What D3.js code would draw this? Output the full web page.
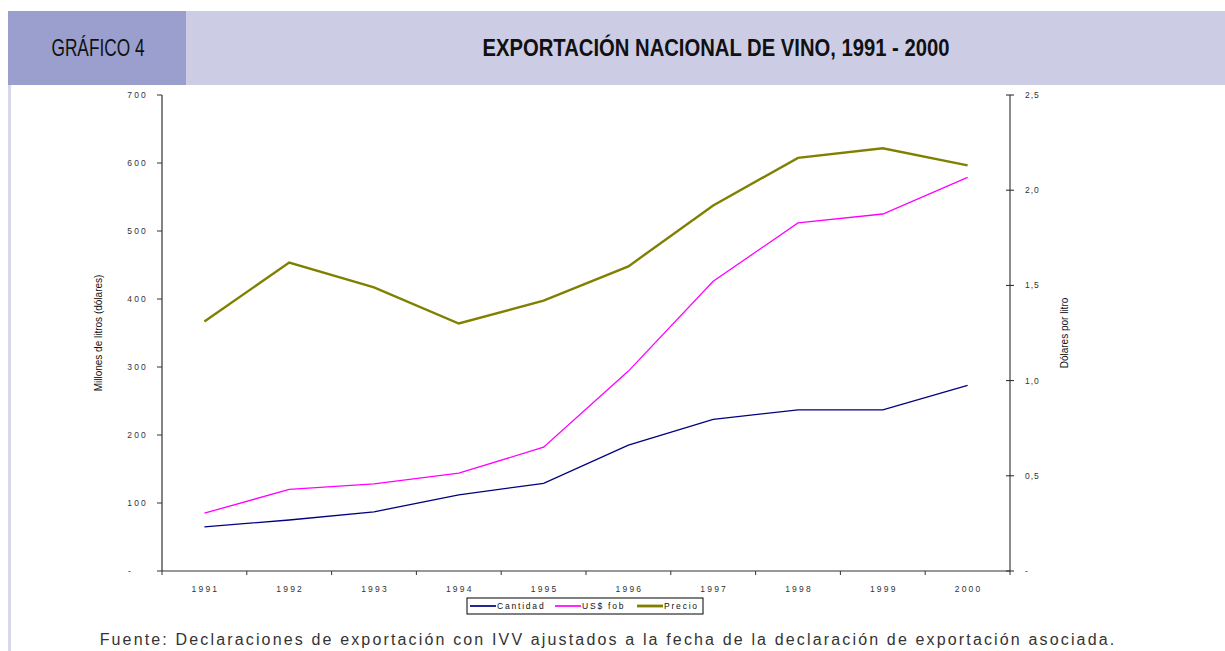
<!DOCTYPE html>
<html>
<head>
<meta charset="utf-8">
<script src="https://cdn.jsdelivr.net/npm/d3@7"></script>
<style>
  body { margin: 0; background: #fff; }
  svg { display: block; font-family: "Liberation Sans", Arial, sans-serif; }
  .tick-label { font-size: 8.5px; letter-spacing: 2.2px; fill: #333; }
</style>
</head>
<body>
<script>
// data
var years = ['1991', '1992', '1993', '1994', '1995', '1996', '1997', '1998', '1999', '2000']
var cantidad = [65, 75, 87, 112, 129, 185, 223, 237, 237, 273]
var fob = [85, 120, 128, 144, 182, 294, 426, 512, 525, 579]
var precio = [1.31, 1.62, 1.49, 1.30, 1.42, 1.60, 1.92, 2.17, 2.22, 2.13]
var leftTicks = [0, 100, 200, 300, 400, 500, 600, 700]
var rightTicks = [0, 0.5, 1, 1.5, 2, 2.5]

var W = 1225, H = 651
var svg = d3.select('body').append('svg')
  .attr('width', W)
  .attr('height', H)

// header band
svg.append('rect').attr('x', 8).attr('y', 11).attr('width', W - 8).attr('height', 74).attr('fill', '#cccde5')
svg.append('rect').attr('x', 8).attr('y', 11).attr('width', 178).attr('height', 74).attr('fill', '#9a9fcd')
svg.append('rect').attr('x', 8).attr('y', 85).attr('width', 3).attr('height', H - 85).attr('fill', '#d6d7ea')

svg.append('text')
  .attr('transform', 'translate(98,56) scale(0.72,1)')
  .attr('text-anchor', 'middle')
  .style('font-size', '24px')
  .attr('fill', '#111')
  .text('GRÁFICO 4')

svg.append('text')
  .attr('transform', 'translate(716,56) scale(0.88,1)')
  .attr('text-anchor', 'middle')
  .style('font-size', '23px')
  .style('font-weight', 'bold')
  .attr('fill', '#111')
  .text('EXPORTACIÓN NACIONAL DE VINO, 1991 - 2000')

// plot geometry
var mLeft = 162, mRight = 1010, mTop = 95, mBottom = 571

var x = d3.scaleBand().domain(years).range([mLeft, mRight])
var yL = d3.scaleLinear().domain([0, 700]).range([mBottom, mTop])
var yR = d3.scaleLinear().domain([0, 2.5]).range([mBottom, mTop])

var axisColor = '#333'

// left axis
var gL = svg.append('g').attr('transform', `translate(${mLeft},0)`)
gL.append('line').attr('y1', mTop).attr('y2', mBottom).attr('stroke', axisColor).attr('stroke-width', 1.2)
gL.selectAll('.t').data(leftTicks).enter().append('line')
  .attr('x1', -5).attr('x2', 0)
  .attr('y1', d => yL(d)).attr('y2', d => yL(d))
  .attr('stroke', axisColor)
gL.selectAll('.tick-label').data(leftTicks).enter().append('text')
  .attr('class', 'tick-label')
  .attr('x', d => d === 0 ? -29 : -14)
  .attr('y', d => yL(d) + 3)
  .attr('text-anchor', 'end')
  .text(d => d === 0 ? '-' : d)

// right axis
var gR = svg.append('g').attr('transform', `translate(${mRight},0)`)
gR.append('line').attr('y1', mTop).attr('y2', mBottom).attr('stroke', '#666').attr('stroke-width', 1.5)
gR.selectAll('.t').data(rightTicks).enter().append('line')
  .attr('x1', -4).attr('x2', 4)
  .attr('y1', d => yR(d)).attr('y2', d => yR(d))
  .attr('stroke', '#222')
gR.selectAll('.tick-label').data(rightTicks).enter().append('text')
  .attr('class', 'tick-label')
  .style('letter-spacing', '1px')
  .attr('x', 15)
  .attr('y', d => yR(d) + 3)
  .text(d => d === 0 ? '-' : d3.format('.1f')(d).replace('.', ','))

// x axis
var gX = svg.append('g').attr('transform', `translate(0,${mBottom})`)
gX.append('line').attr('x1', mLeft).attr('x2', mRight).attr('stroke', axisColor).attr('stroke-width', 1.2)
gX.selectAll('.t').data(years.concat(['end'])).enter().append('line')
  .attr('x1', (d, i) => mLeft + i * x.bandwidth())
  .attr('x2', (d, i) => mLeft + i * x.bandwidth())
  .attr('y1', 0).attr('y2', 4)
  .attr('stroke', axisColor)
gX.selectAll('.tick-label').data(years).enter().append('text')
  .attr('class', 'tick-label')
  .attr('x', d => x(d) + x.bandwidth() / 2 + 1)
  .attr('y', 21)
  .attr('text-anchor', 'middle')
  .text(d => d)

// axis titles
svg.append('text')
  .attr('transform', `translate(102,${(mTop + mBottom) / 2}) rotate(-90)`)
  .attr('text-anchor', 'middle')
  .style('font-size', '10px')
  .attr('fill', '#111')
  .text('Millones de litros (dólares)')

svg.append('text')
  .attr('transform', `translate(1068,${(mTop + mBottom) / 2}) rotate(-90)`)
  .attr('text-anchor', 'middle')
  .style('font-size', '10px')
  .attr('fill', '#111')
  .text('Dólares por litro')

// lines
var cx = (d, i) => x(years[i]) + x.bandwidth() / 2
var series = [
  { name: 'Cantidad', values: cantidad, scale: yL, color: '#000080', width: 1.3 },
  { name: 'US$ fob', values: fob, scale: yL, color: '#ff00ff', width: 1.3 },
  { name: 'Precio', values: precio, scale: yR, color: '#808000', width: 2.4 }
]

series.forEach(function(s) {
  svg.append('path')
    .datum(s.values)
    .attr('fill', 'none')
    .attr('stroke', s.color)
    .attr('stroke-width', s.width)
    .attr('d', d3.line().x(cx).y(d => s.scale(d)))
})

// legend
var legend = svg.append('g').attr('transform', 'translate(467,598)')
legend.append('rect').attr('width', 236).attr('height', 16)
  .attr('fill', '#fff').attr('stroke', '#000').attr('stroke-width', 1)
var legendX = [3, 88, 170]
series.forEach(function(s, i) {
  var g = legend.append('g').attr('transform', `translate(${legendX[i]},8)`)
  g.append('line').attr('x1', 0).attr('x2', 26)
    .attr('stroke', s.color).attr('stroke-width', s.width + 0.4)
  g.append('text').attr('x', 27).attr('y', 3)
    .style('font-size', '8.5px').style('letter-spacing', '1.8px')
    .attr('fill', '#111')
    .text(s.name)
})

// source note
svg.append('text')
  .attr('x', 608).attr('y', 645)
  .attr('text-anchor', 'middle')
  .style('font-size', '16px')
  .style('letter-spacing', '2.15px')
  .attr('fill', '#333')
  .text('Fuente: Declaraciones de exportación con IVV ajustados a la fecha de la declaración de exportación asociada.')
</script>
</body>
</html>
